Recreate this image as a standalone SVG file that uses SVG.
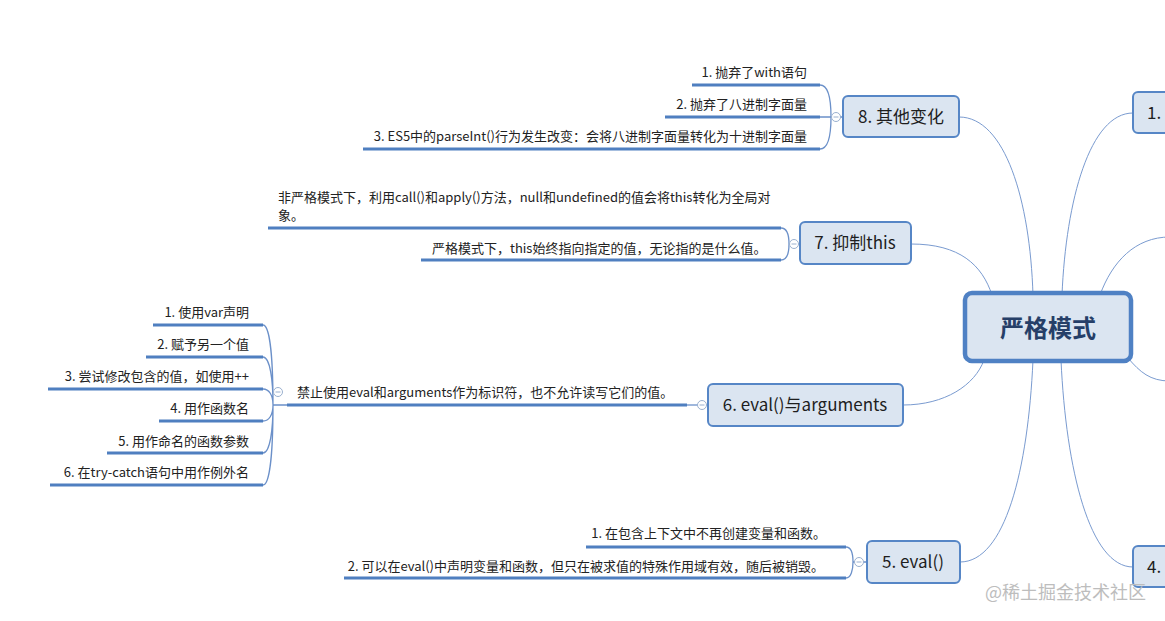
<svg xmlns="http://www.w3.org/2000/svg" width="1165" height="621" viewBox="0 0 1165 621">
<style>
text{font-family:"Noto Sans CJK SC","Microsoft YaHei",sans-serif;fill:#222}
.t{font-size:13px}
.n{font-size:17px;fill:#1e1e1e}
.box{fill:#dbe5f1;stroke:#5686c6;stroke-width:2}
.main{fill:#dbe5f1;stroke:#4f81c4;stroke-width:4.5}
.mt{font-size:24px;font-weight:bold;fill:#263f68}
.c{fill:none;stroke:#7a9bd0;stroke-width:1}
.u{fill:none;stroke:#4f7fc0;stroke-width:3}
.b{fill:none;stroke:#6b90c9;stroke-width:1.3}
.col{fill:#fff;stroke:#9ab0cf;stroke-width:1}
.minus{stroke:#9ab0cf;stroke-width:1}
.wm{font-size:18px;fill:#bdbdbd}
</style>
<rect width="1165" height="621" fill="#ffffff"/>
<g id="connectors">
<path class="c" d="M1033,295 C1030,200 1005,117 959,117"/>
<path class="c" d="M1062,295 C1066,200 1090,113 1133,113"/>
<path class="c" d="M992,295 C982,265 960,244 911,244"/>
<path class="c" d="M1100,295 C1112,262 1135,237 1170,237"/>
<path class="c" d="M984,360 C975,385 945,405 903,405"/>
<path class="c" d="M1033,360 C1028,470 1005,562 960,562"/>
<path class="c" d="M1061,360 C1066,470 1090,567 1133,567"/>
<path class="c" d="M1128,358 C1140,372 1150,381 1170,381"/>
<!-- node 8 bracket -->
<path class="u" d="M692,85 H820"/>
<path class="u" d="M665,117 H820"/>
<path class="u" d="M363,149 H820"/>
<path class="b" d="M820,85 C828,85 831,98 831,117 C831,136 828,149 820,149 M820,117 H843"/>
<!-- node 7 bracket -->
<path class="u" d="M268,228 H781"/>
<path class="u" d="M421,260 H781"/>
<path class="b" d="M781,228 C787,228 789,236 789,244 C789,252 787,260 781,260 M789,244 H800"/>
<!-- node 6 -->
<path class="u" d="M287,405 H687"/>
<path class="b" d="M687,405 H708"/>
<path class="u" d="M153,325 H263"/>
<path class="u" d="M146,357 H263"/>
<path class="u" d="M48,389 H263"/>
<path class="u" d="M159,421 H263"/>
<path class="u" d="M107,453 H263"/>
<path class="u" d="M50,485 H263"/>
<path class="b" d="M263,325 C270,325 273,360 273,405 M263,357 C270,357 273,380 273,405 M263,389 C269,389 273,395 273,405 M263,421 C269,421 273,415 273,405 M263,453 C270,453 273,430 273,405 M263,485 C270,485 273,450 273,405 M273,405 H287"/>
<!-- node 5 bracket -->
<path class="u" d="M586,547 H846"/>
<path class="u" d="M344,578 H846"/>
<path class="b" d="M846,547 C851,547 853,554 853,562 C853,570 851,578 846,578 M853,562 H866"/>
</g>
<g id="collapse">
<circle class="col" cx="836" cy="117" r="4.5"/><path class="minus" d="M833.5,117 H838.5"/>
<circle class="col" cx="794" cy="244" r="4.5"/><path class="minus" d="M791.5,244 H796.5"/>
<circle class="col" cx="702" cy="405" r="4.5"/><path class="minus" d="M699.5,405 H704.5"/>
<circle class="col" cx="278" cy="392" r="4.5"/><path class="minus" d="M275.5,392 H280.5"/>
<circle class="col" cx="859" cy="562" r="4.5"/><path class="minus" d="M856.5,562 H861.5"/>
</g>
<g id="main">
<rect class="main" x="965" y="293" width="166" height="68" rx="7"/>
<text class="mt" x="1048" y="337" text-anchor="middle">严格模式</text>
</g>
<g id="node1">
<rect class="box" x="1133" y="92" width="60" height="41" rx="5"/>
<text class="n" x="1147" y="119">1.</text>
</g>
<g id="node4">
<rect class="box" x="1133" y="546" width="60" height="41" rx="5"/>
<text class="n" x="1147" y="573">4.</text>
</g>
<g id="node8">
<rect class="box" x="843" y="96" width="116" height="41" rx="5"/>
<text class="n" x="901" y="123" text-anchor="middle">8. 其他变化</text>
</g>
<g id="node8-children">
<text class="t" x="807" y="77" text-anchor="end">1. 抛弃了with语句</text>
<text class="t" x="807" y="109" text-anchor="end">2. 抛弃了八进制字面量</text>
<text class="t" x="807" y="141" text-anchor="end">3. ES5中的parseInt()行为发生改变：会将八进制字面量转化为十进制字面量</text>
</g>
<g id="node7">
<rect class="box" x="800" y="222" width="111" height="42" rx="5"/>
<text class="n" x="855" y="249" text-anchor="middle">7. 抑制this</text>
</g>
<g id="node7-children">
<text class="t" x="278" y="201.5">非严格模式下，利用call()和apply()方法，null和undefined的值会将this转化为全局对</text>
<text class="t" x="278" y="219.5">象。</text>
<text class="t" x="432" y="252.5">严格模式下，this始终指向指定的值，无论指的是什么值。</text>
</g>
<g id="node6">
<rect class="box" x="708" y="384" width="195" height="42" rx="5"/>
<text class="n" x="805" y="411" text-anchor="middle">6. eval()与arguments</text>
</g>
<g id="node6-child">
<text class="t" x="297" y="397">禁止使用eval和arguments作为标识符，也不允许读写它们的值。</text>
</g>
<g id="node6-grandchildren">
<text class="t" x="249" y="316.5" text-anchor="end">1. 使用var声明</text>
<text class="t" x="249" y="348.5" text-anchor="end">2. 赋予另一个值</text>
<text class="t" x="249" y="381" text-anchor="end">3. 尝试修改包含的值，如使用++</text>
<text class="t" x="249" y="412.5" text-anchor="end">4. 用作函数名</text>
<text class="t" x="249" y="445.5" text-anchor="end">5. 用作命名的函数参数</text>
<text class="t" x="249" y="476.5" text-anchor="end">6. 在try-catch语句中用作例外名</text>
</g>
<g id="node5">
<rect class="box" x="867" y="541" width="93" height="42" rx="5"/>
<text class="n" x="913" y="568" text-anchor="middle">5. eval()</text>
</g>
<g id="node5-children">
<text class="t" x="826" y="537.5" text-anchor="end">1. 在包含上下文中不再创建变量和函数。</text>
<text class="t" x="824" y="570.5" text-anchor="end">2. 可以在eval()中声明变量和函数，但只在被求值的特殊作用域有效，随后被销毁。</text>
</g>
<text class="wm" x="985" y="599">@稀土掘金技术社区</text>
</svg>
